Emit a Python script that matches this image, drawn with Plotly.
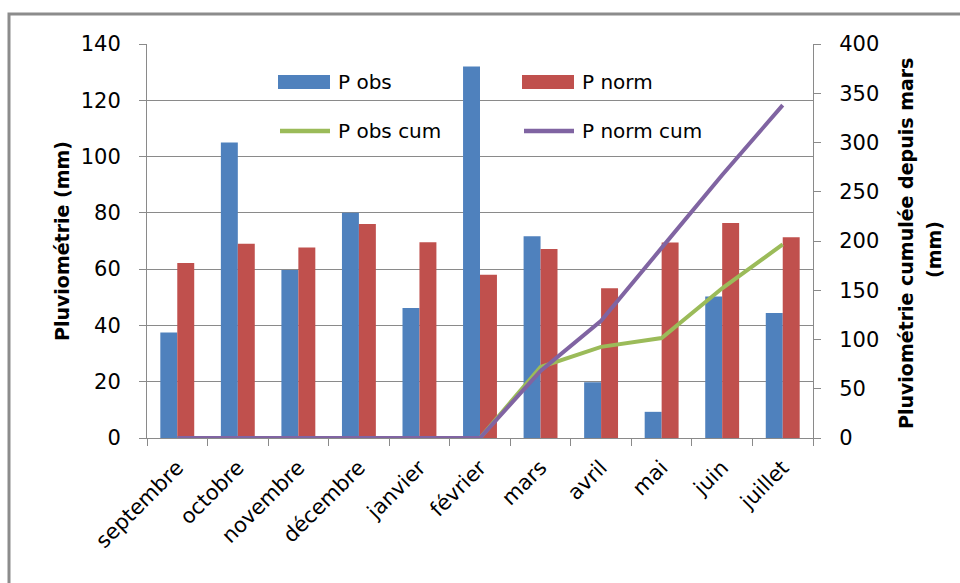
import plotly.graph_objects as go

# Monthly rainfall, September to July
months = ["septembre", "octobre", "novembre", "décembre", "janvier", "février",
          "mars", "avril", "mai", "juin", "juillet"]
p_obs = [37.5, 105, 59.7, 80, 46.2, 132, 71.7, 19.8, 9.3, 50.3, 44.4]
p_norm = [62.2, 69, 67.7, 76, 69.6, 58, 67.2, 53.2, 69.5, 76.4, 71.3]
# Cumulative totals counted from March
p_obs_cum = [0, 0, 0, 0, 0, 0, 72, 92.5, 101.5, 152, 196.5]
p_norm_cum = [0, 0, 0, 0, 0, 0, 68, 119, 193, 267, 338]

left_ticks = [0, 20, 40, 60, 80, 100, 120, 140]
right_ticks = [0, 50, 100, 150, 200, 250, 300, 350, 400]

FONT = "DejaVu Sans"
GRID = "#8a8a8a"
BLUE, RED, GREEN, PURPLE = "#4F81BD", "#C0504D", "#9BBB59", "#8064A2"

W, H = 960, 583
ML, MR, MT, MB = 147, 147, 44, 145
PW, PH = W - ML - MR, H - MT - MB


def px_x(x):
    return (x - ML) / PW


def px_y(y):
    return (H - MB - y) / PH


fig = go.Figure()
fig.add_trace(go.Bar(x=months, y=p_obs, name="P obs", marker=dict(color=BLUE, line=dict(width=0))))
fig.add_trace(go.Bar(x=months, y=p_norm, name="P norm", marker=dict(color=RED, line=dict(width=0))))
fig.add_trace(go.Scatter(x=months, y=p_obs_cum, name="P obs cum", mode="lines", yaxis="y2",
                         line=dict(color=GREEN, width=4)))
fig.add_trace(go.Scatter(x=months, y=p_norm_cum, name="P norm cum", mode="lines", yaxis="y2",
                         line=dict(color=PURPLE, width=4)))

fig.update_layout(
    width=W, height=H,
    margin=dict(l=ML, r=MR, t=MT, b=MB, autoexpand=False),
    paper_bgcolor="white", plot_bgcolor="white",
    barmode="group", bargap=0.44, bargroupgap=0,
    showlegend=False,
    font=dict(family=FONT, size=21, color="#000"),
    xaxis=dict(
        type="category", tickangle=-45, tickson="boundaries",
        ticks="outside", ticklen=7, tickcolor=GRID,
        showline=True, linecolor=GRID, linewidth=1,
        showgrid=False, tickfont=dict(family=FONT, size=21, color="#000"),
        ticklabelstandoff=8,
    ),
    yaxis=dict(
        range=[0, 140], tickvals=left_ticks, ticktext=[str(v) for v in left_ticks],
        showgrid=True, gridcolor=GRID, gridwidth=1,
        showline=True, linecolor=GRID, linewidth=1,
        ticks="outside", ticklen=7, tickcolor=GRID,
        tickfont=dict(family=FONT, size=21, color="#000"),
        ticklabelstandoff=14, zeroline=False,
    ),
    yaxis2=dict(
        range=[0, 400], tickvals=right_ticks, ticktext=[str(v) for v in right_ticks],
        overlaying="y", side="right", showgrid=False,
        showline=True, linecolor=GRID, linewidth=1,
        ticks="outside", ticklen=7, tickcolor=GRID,
        tickfont=dict(family=FONT, size=21, color="#000"),
        ticklabelstandoff=14, zeroline=False,
    ),
)

# Two-column legend drawn inside the plot area: wide swatches like the spreadsheet style
legend_cols = [278, 522]          # swatch left edge per column (px)
legend_rows = [82, 131]           # row centre (px)
swatch_w = 52
legend_font = dict(family=FONT, size=20, color="#000")
for i, tr in enumerate(fig.data):
    col, row = i % 2, i // 2
    x0 = legend_cols[col]
    yc = legend_rows[row]
    if tr.type == "bar":
        fig.add_shape(type="rect", xref="paper", yref="paper",
                      x0=px_x(x0), x1=px_x(x0 + swatch_w), y0=px_y(yc + 7), y1=px_y(yc - 7),
                      fillcolor=tr.marker.color, line=dict(width=0), layer="above")
    else:
        fig.add_shape(type="line", xref="paper", yref="paper",
                      x0=px_x(x0 + 2), x1=px_x(x0 + swatch_w), y0=px_y(yc), y1=px_y(yc),
                      line=dict(color=tr.line.color, width=4.5), layer="above")
    fig.add_annotation(text=tr.name, showarrow=False, xref="paper", yref="paper",
                       x=px_x(x0 + swatch_w + 6), y=px_y(yc), xanchor="left", yanchor="middle",
                       font=legend_font)

title_font = dict(family=FONT, size=19, color="#000")
fig.add_annotation(text="<b>Pluviométrie (mm)</b>", textangle=-90, showarrow=False,
                   xref="paper", yref="paper", x=px_x(62), y=px_y(241),
                   xanchor="center", yanchor="middle", font=title_font)
fig.add_annotation(text="<b>Pluviométrie cumulée depuis mars</b>", textangle=-90, showarrow=False,
                   xref="paper", yref="paper", x=px_x(906), y=px_y(243),
                   xanchor="center", yanchor="middle", font=title_font)
fig.add_annotation(text="<b>(mm)</b>", textangle=-90, showarrow=False,
                   xref="paper", yref="paper", x=px_x(934), y=px_y(250),
                   xanchor="center", yanchor="middle", font=title_font)

# Chart frame
fig.add_shape(type="rect", xref="paper", yref="paper",
              x0=px_x(9), x1=px_x(975), y0=px_y(600), y1=px_y(14),
              line=dict(color="#8c8c8c", width=3), fillcolor="rgba(0,0,0,0)", layer="below")

fig.write_html("out.html")
